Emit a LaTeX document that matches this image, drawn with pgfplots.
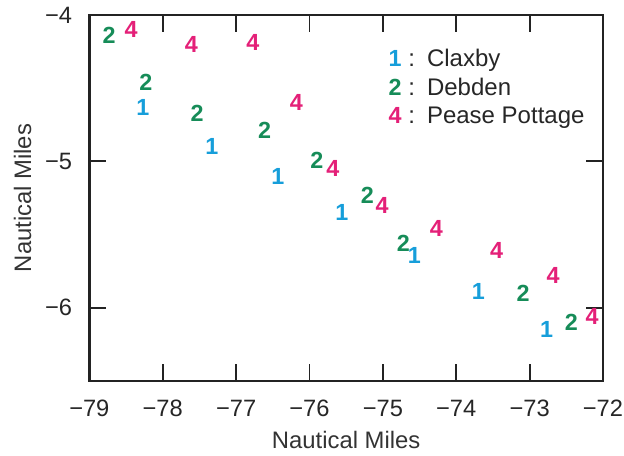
\documentclass[border=0pt]{standalone}
\usepackage{pgfplots}
\pgfplotsset{compat=1.18}
\usepackage{fontspec}
\setmainfont{Liberation Sans}
\definecolor{cblue}{RGB}{22,158,218}
\definecolor{cgreen}{RGB}{22,140,88}
\definecolor{cpink}{RGB}{228,32,120}
\definecolor{cline}{RGB}{35,35,35}
\begin{document}
\begin{tikzpicture}
\begin{axis}[
  name=ax,
  scale only axis,
  width=308.2pt, height=219.6pt,
  xmin=-79, xmax=-72, ymin=-6.5, ymax=-4,
  xtick={-79,-78,...,-72},
  xticklabels={−79,−78,−77,−76,−75,−74,−73,−72},
  ytick={-6,-5,-4},
  yticklabels={−6,−5,−4},
  tick align=inside,
  major tick length=10pt,
  tick style={line width=1.1pt, cline},
  axis line style={line width=1.5pt, cline},
  xtick pos=both, ytick pos=both,
  ticklabel style={font=\fontsize{14.2}{16}\selectfont, text=black!85, inner sep=0pt},
  xticklabel style={anchor=center, yshift=-16.2pt},
  yticklabel style={anchor=east, xshift=-10.2pt},
  every axis x label/.style={at={(axis description cs:0.5,-0.161)}, anchor=center},
  every axis y label/.style={at={(axis description cs:-0.1298,0.5)}, anchor=center, rotate=90},
  label style={font=\fontsize{14.3}{16}\selectfont, text=black!80},
  xlabel={Nautical Miles},
  ylabel={Nautical Miles},
  legend style={draw=none, fill=none, at={(0.566,0.925)}, anchor=north west,
    font=\fontsize{14.4}{17}\selectfont, row sep=1.3pt, text=black!85},
  legend cell align=left,
]
\addplot[only marks, mark=text, text mark={1}, text mark as node=true,
  text mark style={font=\bfseries\fontsize{14}{16}\selectfont, text=cblue}, color=cblue]
  coordinates {
  (-78.27,-4.63) (-77.33,-4.90) (-76.43,-5.10) (-75.56,-5.35)
  (-74.57,-5.64) (-73.70,-5.89) (-72.77,-6.15)
  };
\addlegendentry{:\hspace{0.5em}Claxby}
\addplot[only marks, mark=text, text mark={2}, text mark as node=true,
  text mark style={font=\bfseries\fontsize{14}{16}\selectfont, text=cgreen}, color=cgreen]
  coordinates {
  (-78.73,-4.14) (-78.23,-4.46) (-77.53,-4.67) (-76.61,-4.79)
  (-75.90,-4.99) (-75.21,-5.23) (-74.72,-5.56) (-73.09,-5.90) (-72.43,-6.10)
  };
\addlegendentry{:\hspace{0.5em}Debden}
\addplot[only marks, mark=text, text mark={4}, text mark as node=true,
  text mark style={font=\bfseries\fontsize{14}{16}\selectfont, text=cpink}, color=cpink]
  coordinates {
  (-78.43,-4.10) (-77.61,-4.20) (-76.77,-4.19) (-76.18,-4.60)
  (-75.68,-5.05) (-75.01,-5.30) (-74.27,-5.46) (-73.45,-5.61)
  (-72.68,-5.78) (-72.15,-6.06)
  };
\addlegendentry{:\hspace{0.5em}Pease Pottage}
\end{axis}
\pgfresetboundingbox
\useasboundingbox ([shift={(-53.6pt,-45pt)}]ax.south west) rectangle ([shift={(12.6pt,9pt)}]ax.north east);
\end{tikzpicture}
\end{document}
